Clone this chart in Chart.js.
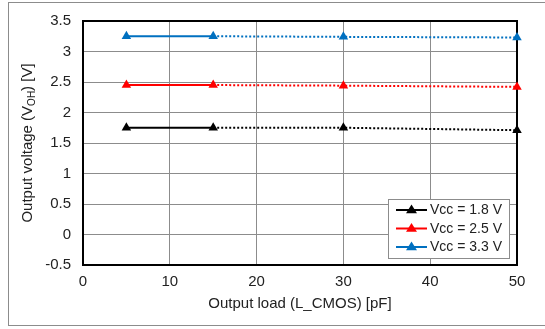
<!DOCTYPE html>
<html>
<head>
<meta charset="utf-8">
<script src="https://cdn.jsdelivr.net/npm/chart.js@4/dist/chart.umd.min.js"></script>
<style>
  html, body { margin: 0; padding: 0; background: #fff; }
  #wrap { position: relative; width: 545px; height: 329px; }
  #frame { position: absolute; left: 8px; top: 2px; width: 545px; height: 324px; border: 1px solid #8c8c8c; box-sizing: border-box; pointer-events: none; }
  canvas { position: absolute; left: 0; top: 0; }
</style>
</head>
<body>
<div id="wrap">
  <div id="frame"></div>
  <canvas id="c" width="545" height="329"></canvas>
</div>
<script>
// ---- data ----
const loads = [5, 15, 30, 50];               // Output load [pF]
const vcc18 = [1.75, 1.75, 1.75, 1.71];
const vcc25 = [2.45, 2.45, 2.44, 2.42];
const vcc33 = [3.25, 3.25, 3.24, 3.23];
const seriesLabels = ['Vcc = 1.8 V', 'Vcc = 2.5 V', 'Vcc = 3.3 V'];
const seriesColors = ['#000000', '#ff0000', '#0070c0'];
const xTickLabels = ['0', '10', '20', '30', '40', '50'];
const yTickLabels = ['-0.5', '0', '0.5', '1', '1.5', '2', '2.5', '3', '3.5'];
const xTitle = 'Output load (L_CMOS) [pF]';
const yTitleParts = ['Output voltage (V', 'OH', ') [V]'];

const FONT = '"Liberation Sans", Arial, sans-serif';
const TXT = '#222';

function mk(vals, i) {
  return {
    label: seriesLabels[i],
    data: loads.map((x, k) => ({ x: x, y: vals[k] })),
    borderColor: seriesColors[i],
    backgroundColor: seriesColors[i],
    borderWidth: 2,
    pointStyle: 'triangle',
    pointRadius: 5.5,
    pointHoverRadius: 5.5,
    pointBorderWidth: 0,
    clip: false,
    segment: {
      borderDash: ctx => ctx.p0DataIndex >= 1 ? [2, 2] : undefined
    }
  };
}

const framePlugin = {
  id: 'frame',
  beforeDatasetsDraw(chart) {
    const a = chart.chartArea, c = chart.ctx;
    c.save();
    c.strokeStyle = '#000';
    c.lineWidth = 2;
    c.strokeRect(a.left, a.top, a.right - a.left, a.bottom - a.top);
    c.restore();
  }
};

const yTitlePlugin = {
  id: 'ytitle',
  afterDraw(chart) {
    const a = chart.chartArea, c = chart.ctx;
    c.save();
    c.translate(28, (a.top + a.bottom) / 2);
    c.rotate(-Math.PI / 2);
    c.fillStyle = TXT;
    c.textBaseline = 'middle';
    const big = '15px ' + FONT, small = '10px ' + FONT;
    c.font = big; const w0 = c.measureText(yTitleParts[0]).width, w2 = c.measureText(yTitleParts[2]).width;
    c.font = small; const w1 = c.measureText(yTitleParts[1]).width;
    let x = -(w0 + w1 + w2) / 2;
    c.textAlign = 'left';
    c.font = big; c.fillText(yTitleParts[0], x, 0); x += w0;
    c.font = small; c.fillText(yTitleParts[1], x, 4); x += w1;
    c.font = big; c.fillText(yTitleParts[2], x, 0);
    c.restore();
  }
};

const legendPlugin = {
  id: 'boxlegend',
  afterDraw(chart) {
    const c = chart.ctx;
    const bx = 388, by = 199, bw = 121, bh = 59;
    c.save();
    c.fillStyle = '#fff';
    c.fillRect(bx, by, bw, bh);
    c.strokeStyle = '#8c8c8c';
    c.lineWidth = 1;
    c.strokeRect(bx + 0.5, by + 0.5, bw, bh);
    chart.data.datasets.forEach((ds, i) => {
      const y = 210 + i * 18.5;
      c.strokeStyle = ds.borderColor;
      c.lineWidth = 2;
      c.beginPath(); c.moveTo(396, y); c.lineTo(427, y); c.stroke();
      c.fillStyle = ds.borderColor;
      const r = 5.5, cx = 411.5;
      c.beginPath();
      c.moveTo(cx, y - r);
      c.lineTo(cx + r, y + r * 0.6);
      c.lineTo(cx - r, y + r * 0.6);
      c.closePath(); c.fill();
      c.fillStyle = TXT;
      c.font = '14px ' + FONT;
      c.textBaseline = 'middle';
      c.textAlign = 'left';
      c.fillText(ds.label, 430, y + 0.5);
    });
    c.restore();
  }
};

new Chart(document.getElementById('c'), {
  type: 'line',
  data: { datasets: [mk(vcc18, 0), mk(vcc25, 1), mk(vcc33, 2)] },
  options: {
    responsive: false,
    animation: false,
    devicePixelRatio: 1,
    layout: { padding: { top: 20, right: 28, left: 0, bottom: 0 } },
    plugins: { legend: { display: false }, tooltip: { enabled: false } },
    scales: {
      x: {
        type: 'linear', min: 0, max: 50,
        ticks: { stepSize: 10, font: { size: 15, family: FONT }, color: TXT, padding: 8, maxRotation: 0,
                 callback: (v, i) => xTickLabels[i] },
        grid: { color: '#8c8c8c', lineWidth: 1, drawTicks: false },
        border: { display: false },
        title: { display: true, text: xTitle, font: { size: 15, family: FONT }, color: TXT, padding: { top: 4, bottom: 16 } },
        afterFit(s) { s.height = 64; }
      },
      y: {
        type: 'linear', min: -0.5, max: 3.5,
        ticks: { stepSize: 0.5, font: { size: 15, family: FONT }, color: TXT, padding: 12,
                 callback: (v, i) => yTickLabels[i] },
        grid: { color: '#8c8c8c', lineWidth: 1, drawTicks: false },
        border: { display: false },
        afterFit(s) { s.width = 83; }
      }
    }
  },
  plugins: [framePlugin, yTitlePlugin, legendPlugin]
});
</script>
</body>
</html>
